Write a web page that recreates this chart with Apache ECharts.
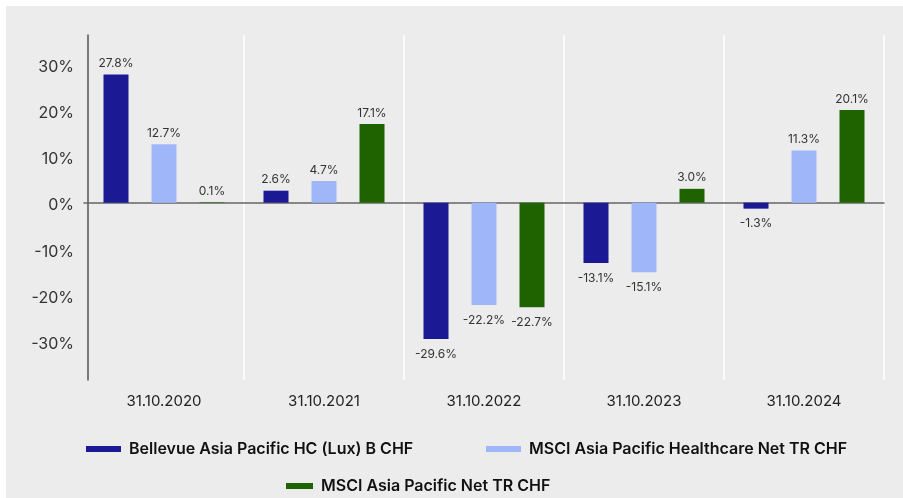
<!DOCTYPE html>
<html>
<head>
<meta charset="utf-8">
<script src="https://cdn.jsdelivr.net/npm/echarts@6/dist/echarts.min.js"></script>
<style>
  html, body { margin: 0; padding: 0; background: #ffffff; }
  #chart { position: absolute; left: 6px; top: 6px; width: 897px; height: 492px; background: #ececec; }
</style>
</head>
<body>
<div id="chart"></div>
<script>
const categories = ['31.10.2020', '31.10.2021', '31.10.2022', '31.10.2023', '31.10.2024'];
const seriesNames = [
  'Bellevue Asia Pacific HC (Lux) B CHF',
  'MSCI Asia Pacific Healthcare Net TR CHF',
  'MSCI Asia Pacific Net TR CHF'
];
const fundValues = [27.8, 2.6, -29.6, -13.1, -1.3];
const healthcareValues = [12.7, 4.7, -22.2, -15.1, 11.3];
const marketValues = [0.1, 17.1, -22.7, 3.0, 20.1];
const yTickValues = [-30, -20, -10, 0, 10, 20, 30];
const colors = ['#1b1994', '#9fb6f9', '#1f6300'];

const FONT = 'Inter, "Noto Sans", sans-serif';

function toData(values) {
  return values.map(v => ({
    value: v,
    label: v < 0 ? { position: 'bottom', distance: 9 } : { position: 'top', distance: 5 }
  }));
}

function makeSeries(name, values, color) {
  return {
    name: name,
    type: 'bar',
    xAxisIndex: 0,
    yAxisIndex: 0,
    barWidth: 25,
    barGap: '92%',
    itemStyle: { color: color },
    label: {
      show: true,
      fontFamily: FONT,
      fontSize: 12,
      color: '#333333',
      formatter: p => p.value.toFixed(1) + '%'
    },
    data: toData(values)
  };
}

const legendText = { fontFamily: FONT, fontSize: 16, fontWeight: 600, color: '#111111', lineHeight: 18, padding: [0, 0, 0, 3] };
const legendBase = { icon: 'rect', itemHeight: 6, itemGap: 8, padding: 0, textStyle: legendText };

const chart = echarts.init(document.getElementById('chart'), null, { renderer: 'canvas' });
chart.setOption({
  animation: false,
  backgroundColor: '#ececec',
  grid: { left: 78, right: 19, top: 29, bottom: 118, containLabel: false },
  legend: [
    Object.assign({ data: [seriesNames[0]], left: 80, top: 434, itemWidth: 35 }, legendBase),
    Object.assign({ data: [seriesNames[1]], left: 480, top: 434, itemWidth: 35 }, legendBase),
    Object.assign({ data: [seriesNames[2]], left: 280, top: 471, itemWidth: 27 }, legendBase)
  ],
  xAxis: [
    {
      type: 'category',
      data: categories,
      position: 'bottom',
      axisLine: { show: false, onZero: false },
      axisTick: { show: false },
      axisLabel: { fontFamily: FONT, fontSize: 15, color: '#222222', margin: 14 },
      splitLine: {
        show: true,
        interval: (i) => i !== 0,
        lineStyle: { color: '#ffffff', width: 1.5 }
      }
    },
    {
      type: 'category',
      data: categories,
      position: 'bottom',
      axisLine: { show: true, onZero: true, lineStyle: { color: '#666666', width: 1.5 } },
      axisTick: { show: false },
      axisLabel: { show: false },
      splitLine: { show: false }
    }
  ],
  yAxis: {
    type: 'value',
    min: -38.5,
    max: 36.4,
    offset: -4,
    axisLine: { show: true, lineStyle: { color: '#555555', width: 1.5 } },
    axisTick: { show: false },
    splitLine: { show: false },
    axisLabel: {
      customValues: yTickValues,
      margin: 14,
      formatter: v => '{t|' + v + '%}',
      rich: {
        t: { fontFamily: FONT, fontSize: 16, color: '#333333', padding: [6, 0, 0, 0] }
      }
    }
  },
  series: [
    makeSeries(seriesNames[0], fundValues, colors[0]),
    makeSeries(seriesNames[1], healthcareValues, colors[1]),
    makeSeries(seriesNames[2], marketValues, colors[2])
  ]
});
</script>
</body>
</html>
